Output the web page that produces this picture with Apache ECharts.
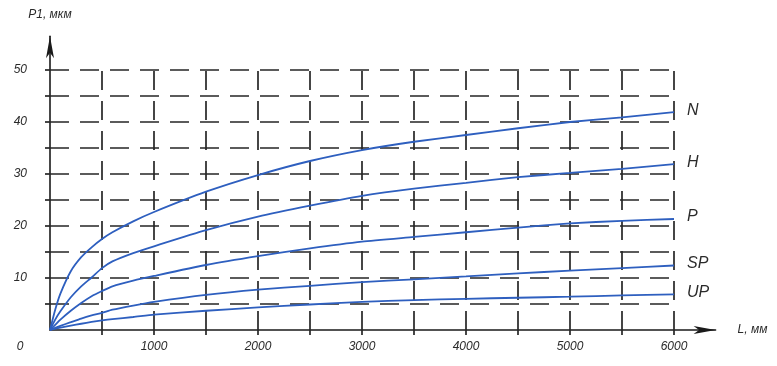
<!DOCTYPE html>
<html>
<head>
<meta charset="utf-8">
<script src="https://cdn.jsdelivr.net/npm/echarts@6/dist/echarts.min.js"></script>
<style>
html,body{margin:0;padding:0;background:#fff;}
#c{width:777px;height:366px;}
</style>
</head>
<body>
<div id="c"></div>
<script>
// Length L, mm
var lengths = [0, 50, 100, 200, 300, 400, 500, 600, 800, 1000, 1500, 2000, 2500, 3000, 3500, 4000, 4500, 5000, 5500, 6000];
// P1, µm per grade
var seriesN  = [0, 3.9, 7.0, 11.3, 14.0, 15.9, 17.5, 18.8, 20.9, 22.7, 26.6, 29.8, 32.5, 34.6, 36.2, 37.5, 38.8, 40.0, 40.9, 41.9];
var seriesH  = [0, 2.0, 3.6, 6.3, 8.4, 10.1, 11.9, 13.2, 14.8, 16.1, 19.2, 21.8, 23.9, 25.8, 27.2, 28.3, 29.4, 30.2, 31.0, 31.9];
var seriesP  = [0, 1.0, 2.0, 3.7, 5.2, 6.5, 7.5, 8.4, 9.5, 10.4, 12.5, 14.2, 15.7, 17.0, 17.9, 18.8, 19.7, 20.5, 21.0, 21.35];
var seriesSP = [0, 0.4, 0.8, 1.5, 2.2, 2.8, 3.3, 3.9, 4.7, 5.4, 6.75, 7.75, 8.5, 9.2, 9.75, 10.3, 10.9, 11.4, 11.9, 12.4];
var seriesUP = [0, 0.25, 0.45, 0.85, 1.2, 1.55, 1.85, 2.1, 2.5, 2.95, 3.7, 4.35, 4.9, 5.4, 5.75, 6.0, 6.2, 6.4, 6.65, 6.85];
var seriesNames = ['N', 'H', 'P', 'SP', 'UP'];

// ticks / grid values
var xGridValues = [500, 1000, 1500, 2000, 2500, 3000, 3500, 4000, 4500, 5000, 5500, 6000];
var yGridValues = [5, 10, 15, 20, 25, 30, 35, 40, 45, 50];
var xLabelValues = [0, 1000, 2000, 3000, 4000, 5000, 6000];
var yLabelValues = [10, 20, 30, 40, 50];
var xGridMax = 6000, yGridMax = 50;

var FONT = 'Liberation Sans';
var TXT = '#2a2a2a';
var BLUE = '#2e5fbf';

function pairs(xs, ys) { return xs.map(function (x, i) { return [x, ys[i]]; }); }

var gridLines = [];
yGridValues.forEach(function (v) { gridLines.push([{ coord: [0, v] }, { coord: [xGridMax, v] }]); });
xGridValues.forEach(function (v) { gridLines.push([{ coord: [v, 0] }, { coord: [v, yGridMax] }]); });

var allSeries = [{
  type: 'line', data: [], silent: true, clip: false,
  markLine: {
    silent: true, symbol: ['none', 'none'], animation: false,
    label: { show: false },
    lineStyle: { color: '#262626', width: 1.7, type: [19, 11] },
    emphasis: { disabled: true },
    data: gridLines
  }
}];
[seriesN, seriesH, seriesP, seriesSP, seriesUP].forEach(function (s, i) {
  allSeries.push({
    name: seriesNames[i], type: 'line', data: pairs(lengths, s),
    smooth: 0.2, showSymbol: false, symbol: 'none', z: 5,
    lineStyle: { color: BLUE, width: 1.8 },
    endLabel: {
      show: true, formatter: '{a}', offset: [5, -2],
      fontFamily: FONT, fontStyle: 'italic', fontSize: 16, color: TXT
    }
  });
});

var chart = echarts.init(document.getElementById('c'), null, { renderer: 'canvas' });
chart.setOption({
  animation: false,
  backgroundColor: '#ffffff',
  grid: { left: 50, right: 61.4, top: 36.2, bottom: 36, containLabel: false },
  xAxis: {
    type: 'value', min: 0, max: 6400,
    name: 'L, мм', nameLocation: 'end', nameGap: 22,
    nameTextStyle: { fontFamily: FONT, fontStyle: 'italic', fontSize: 12, color: TXT, verticalAlign: 'middle' },
    axisLine: { show: true, symbol: ['none', 'arrow'], symbolSize: [6, 22], lineStyle: { color: '#1a1a1a', width: 1.6 } },
    axisTick: { show: true, customValues: xGridValues, length: 5, inside: false, lineStyle: { color: '#262626', width: 1.7 } },
    axisLabel: {
      customValues: xLabelValues, margin: 11,
      fontFamily: FONT, fontStyle: 'italic', fontSize: 12, color: TXT,
      formatter: function (v) { return v === 0 ? '{z|0}' : String(v); },
      rich: { z: { fontFamily: FONT, fontStyle: 'italic', fontSize: 12, color: TXT, padding: [0, 60, 0, 0] } }
    },
    splitLine: { show: false }
  },
  yAxis: {
    type: 'value', min: 0, max: 56.5,
    name: 'P1, мкм', nameLocation: 'end', nameGap: 16,
    nameTextStyle: { fontFamily: FONT, fontStyle: 'italic', fontSize: 12, color: TXT },
    axisLine: { show: true, symbol: ['none', 'arrow'], symbolSize: [6, 22], lineStyle: { color: '#1a1a1a', width: 1.6 } },
    axisTick: { show: true, customValues: yGridValues, length: 5, inside: false, lineStyle: { color: '#262626', width: 1.7 } },
    axisLabel: {
      customValues: yLabelValues, margin: 23,
      fontFamily: FONT, fontStyle: 'italic', fontSize: 12, color: TXT
    },
    splitLine: { show: false }
  },
  series: allSeries
});
</script>
</body>
</html>
